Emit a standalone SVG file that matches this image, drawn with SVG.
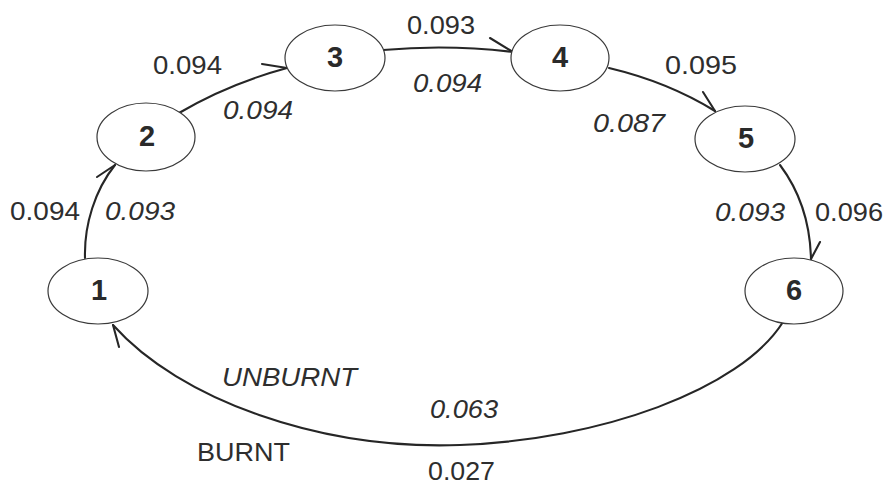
<svg xmlns="http://www.w3.org/2000/svg" width="888" height="486" viewBox="0 0 888 486">
  <style>
    .node ellipse { fill: #ffffff; stroke: #3a3a3a; stroke-width: 1.2; }
    .node text { font-family: "Liberation Sans", Arial, sans-serif; font-size: 29px; font-weight: bold; fill: #2a2a2a; text-anchor: middle; }
    .edge { fill: none; stroke: #262626; stroke-width: 2.1; stroke-linecap: round; }
    .lbl { font-family: "Liberation Sans", Arial, sans-serif; font-size: 26px; fill: #2e2e2e; }
    .it { font-style: italic; }
  </style>
  <rect width="888" height="486" fill="#ffffff"/>

  <!-- transitions: curve plus a single-barb head at the target -->
  <g id="connectors">
    <path class="edge" d="M85,258 C84,225 95,190 115,165"/>
    <path class="edge" d="M97,177 L115,165"/>

    <path class="edge" d="M179,113 Q228,84 287,68"/>
    <path class="edge" d="M262,64 L287,68"/>

    <path class="edge" d="M383,50 Q448,44 513,52"/>
    <path class="edge" d="M490,38 L513,52"/>

    <path class="edge" d="M609,68 Q668,82 715,111"/>
    <path class="edge" d="M703,92 L715,111"/>

    <path class="edge" d="M780,165 C795,185 810,215 811,259"/>
    <path class="edge" d="M820,242 L811,259"/>

    <path class="edge" d="M783,322 C740,390 600,440 460,445 C320,450 180,400 113,325"/>
    <path class="edge" d="M119,347 L113,325"/>
  </g>

  <g id="n1" class="node"><ellipse cx="98" cy="291" rx="50" ry="33"/><text x="99" y="300">1</text></g>
  <g id="n2" class="node"><ellipse cx="146" cy="137" rx="49" ry="34"/><text x="147" y="146">2</text></g>
  <g id="n3" class="node"><ellipse cx="335" cy="58" rx="50" ry="33"/><text x="335" y="67">3</text></g>
  <g id="n4" class="node"><ellipse cx="560" cy="58" rx="49" ry="33"/><text x="560" y="67">4</text></g>
  <g id="n5" class="node"><ellipse cx="745" cy="139" rx="50" ry="33"/><text x="746" y="148">5</text></g>
  <g id="n6" class="node"><ellipse cx="794" cy="291" rx="49" ry="33"/><text x="794" y="300">6</text></g>

  <g id="labels">
    <text class="lbl" x="10" y="220" textLength="70" lengthAdjust="spacingAndGlyphs">0.094</text>
    <text class="lbl it" x="105" y="220" textLength="70" lengthAdjust="spacingAndGlyphs">0.093</text>
    <text class="lbl" x="153" y="74" textLength="69" lengthAdjust="spacingAndGlyphs">0.094</text>
    <text class="lbl it" x="223" y="119" textLength="70" lengthAdjust="spacingAndGlyphs">0.094</text>
    <text class="lbl" x="407" y="34" textLength="68" lengthAdjust="spacingAndGlyphs">0.093</text>
    <text class="lbl it" x="413" y="92" textLength="69" lengthAdjust="spacingAndGlyphs">0.094</text>
    <text class="lbl" x="665" y="74" textLength="72" lengthAdjust="spacingAndGlyphs">0.095</text>
    <text class="lbl it" x="593" y="132" textLength="72" lengthAdjust="spacingAndGlyphs">0.087</text>
    <text class="lbl it" x="715" y="221" textLength="70" lengthAdjust="spacingAndGlyphs">0.093</text>
    <text class="lbl" x="815" y="221" textLength="68" lengthAdjust="spacingAndGlyphs">0.096</text>
    <text class="lbl it" x="222" y="386" textLength="135" lengthAdjust="spacingAndGlyphs">UNBURNT</text>
    <text class="lbl it" x="430" y="418" textLength="68" lengthAdjust="spacingAndGlyphs">0.063</text>
    <text class="lbl" x="197" y="461" textLength="93" lengthAdjust="spacingAndGlyphs">BURNT</text>
    <text class="lbl" x="428" y="480" font-size="25" textLength="67" lengthAdjust="spacingAndGlyphs">0.027</text>
  </g>
</svg>
